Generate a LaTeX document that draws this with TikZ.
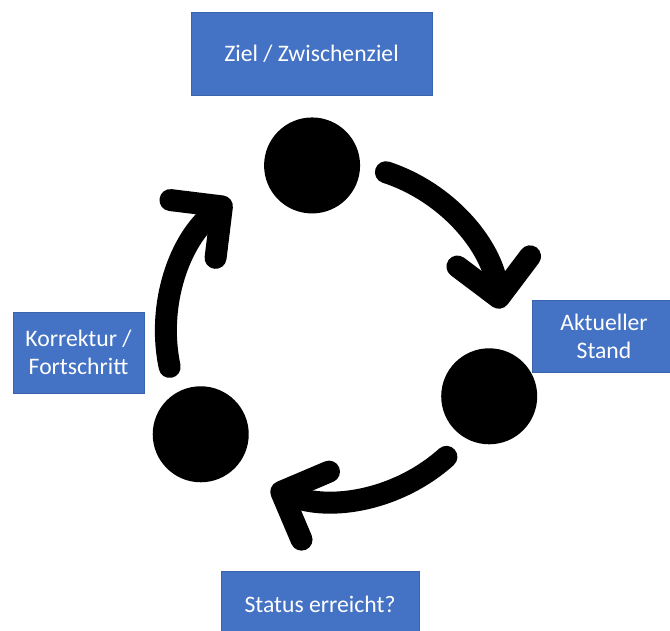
\documentclass[tikz,border=0pt]{standalone}
\usepackage{fontspec}
\setmainfont{Carlito}
\usetikzlibrary{arrows.meta}

\definecolor{boxblue}{HTML}{4472C4}
\definecolor{boxline}{HTML}{3A63AE}

\tikzset{
	stage/.style={draw=boxline, line width=0.3pt, fill=boxblue, text=white, align=center,
		inner sep=0pt, outer sep=0pt, font=\fontsize{7.1}{8.4}\selectfont},
	dot/.style={circle, fill=black, minimum size=28.8pt, inner sep=0pt},
	turn/.style={line width=6.6pt, line cap=round,
		-{Straight Barb[length=11pt, width=22pt, line width=0pt 1, round]}}
}

\begin{document}
\begin{tikzpicture}[x=0.3pt, y=0.3pt]
		\useasboundingbox (0, 0) rectangle (670, 630);
		\clip (0, 0) rectangle (670, 630);
		
		% Centre of the cycle
		\coordinate (c) at (334, 298);
		
		% Dots
		\node[dot] (goal) at ([shift={(97.5:168)}]c) {};
		\node[dot] (now) at ([shift={(-22.5:168)}]c) {};
		\node[dot] (check) at ([shift={(217.5:168)}]c) {};
		
		% Arrows
		\draw[turn] ([shift={(72:168)}]c) arc[start angle=72, end angle=8, radius=168];
		\draw[turn] ([shift={(-48:168)}]c) arc[start angle=-48, end angle=-112, radius=168];
		\draw[turn] ([shift={(192:168)}]c) arc[start angle=192, end angle=128, radius=168];
		
		% Labels
		\node[stage, minimum width=72.3pt, minimum height=24.9pt] (ziel) at (311.5, 576.5) {Ziel / Zwischenziel};
		\node[stage, minimum width=43.2pt, minimum height=21.6pt] (stand) at (604, 294) {Aktueller\\Stand};
		\node[stage, minimum width=59.4pt, minimum height=19.8pt] (status) at (320, 26) {Status erreicht?};
		\node[stage, minimum width=39.3pt, minimum height=24.3pt] (korrektur) at (78.5, 277.5) {Korrektur /\\Fortschritt};
	\end{tikzpicture}
\end{document}
